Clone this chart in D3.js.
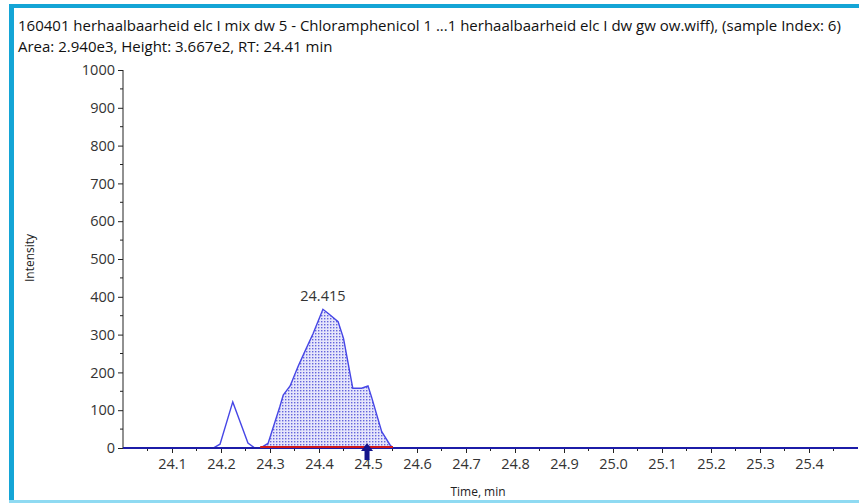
<!DOCTYPE html>
<html>
  <head>
    <title>XIC</title>
    <script src="https://d3js.org/d3.v7.min.js"></script>
    <style>
      body { margin: 0; background: #ffffff; }
      text { font-family: "Open Sans", "Noto Sans", sans-serif; }
    </style>
  </head>
  <body>
    <svg width="859" height="503" id="mainsvg"></svg>
    <script>
        // chart values
        const titleLine1 = '160401 herhaalbaarheid elc I mix dw 5 - Chloramphenicol 1 ...1 herhaalbaarheid elc I dw gw ow.wiff), (sample Index: 6)';
        const titleLine2 = 'Area: 2.940e3, Height: 3.667e2, RT: 24.41 min';
        const times = [24.0, 24.184, 24.198, 24.224, 24.255, 24.269, 24.280, 24.296, 24.320, 24.327, 24.341, 24.357,
                       24.371, 24.388, 24.408, 24.419, 24.439, 24.450, 24.469, 24.487, 24.500, 24.507, 24.528, 24.545, 24.551, 25.5];
        const intensities = [0, 0, 10, 122, 13, 0, 0, 12, 109, 140, 164, 215,
                             255, 303, 367, 356, 334, 290, 158, 158, 164, 136, 43, 8, 0, 0];
        const peakStart = 24.280, peakEnd = 24.551;
        const peakLabel = '24.415';
        const peakLabelTime = 24.408, peakLabelValue = 367;
        const markerTime = 24.498;
        const xTicks = [24.1, 24.2, 24.3, 24.4, 24.5, 24.6, 24.7, 24.8, 24.9, 25.0, 25.1, 25.2, 25.3, 25.4];
        const yTicks = [0, 100, 200, 300, 400, 500, 600, 700, 800, 900, 1000];

        const svg = d3.select('#mainsvg');
        const margin = {top: 70, left: 123, bottom: 448, right: 858};

        // frame
        svg.append('rect').attr('x', 9).attr('y', 4).attr('width', 850).attr('height', 4).attr('fill', '#14a5d6');
        svg.append('rect').attr('x', 9).attr('y', 4).attr('width', 5).attr('height', 499).attr('fill', '#14a5d6');
        svg.append('rect').attr('x', 9).attr('y', 500).attr('width', 850).attr('height', 3).attr('fill', '#8fdaf2');

        svg.append('text').attr('x', 18).attr('y', 31).attr('font-size', 15).attr('fill', '#111')
           .text(titleLine1);
        svg.append('text').attr('x', 18).attr('y', 52).attr('font-size', 15).attr('fill', '#111')
           .text(titleLine2);

        const xScale = d3.scaleLinear().domain([24.0, 25.5]).range([margin.left, margin.right]);
        const yScale = d3.scaleLinear().domain([0, 1000]).range([margin.bottom, margin.top]);

        // dotted fill pattern
        const defs = svg.append('defs');
        const pat = defs.append('pattern').attr('id', 'dots').attr('patternUnits', 'userSpaceOnUse')
            .attr('width', 3).attr('height', 3);
        pat.append('rect').attr('width', 3).attr('height', 3).attr('fill', '#e6e6fb');
        pat.append('rect').attr('width', 1.4).attr('height', 1.4).attr('fill', '#6464dc');

        const data = times.map((t, i) => ({t: t, v: intensities[i]}));
        const peakData = data.filter(d => d.t >= peakStart && d.t <= peakEnd);

        const area = d3.area().x(d => xScale(d.t)).y0(yScale(0)).y1(d => yScale(d.v));
        svg.append('path').datum(peakData).attr('d', area).attr('fill', 'url(#dots)');

        // axes
        const yAxis = d3.axisLeft(yScale).tickValues(yTicks).tickFormat(d3.format('d')).tickSize(5).tickPadding(3);
        const yg = svg.append('g').attr('transform', `translate(${margin.left},0)`).call(yAxis);
        yg.selectAll('.domain').remove();
        yg.selectAll('.tick line').attr('stroke', '#222');
        yg.selectAll('text').attr('font-size', 14.5).attr('fill', '#333');
        svg.append('line').attr('x1', margin.left).attr('x2', margin.left)
           .attr('y1', margin.top).attr('y2', margin.bottom).attr('stroke', '#222');
        // minor y ticks
        svg.append('g').selectAll('line').data(d3.range(50, 1000, 100)).join('line')
           .attr('x1', margin.left - 3).attr('x2', margin.left)
           .attr('y1', d => yScale(d)).attr('y2', d => yScale(d)).attr('stroke', '#222');

        const xAxis = d3.axisBottom(xScale).tickValues(xTicks).tickFormat(d3.format('.1f')).tickSize(5).tickPadding(6);
        const xg = svg.append('g').attr('transform', `translate(0,${margin.bottom})`).call(xAxis);
        xg.selectAll('.domain').remove();
        xg.selectAll('.tick line').attr('stroke', '#222');
        xg.selectAll('text').attr('font-size', 14.5).attr('fill', '#333');
        svg.append('g').selectAll('line').data(d3.range(24.05, 25.5, 0.1)).join('line')
           .attr('x1', d => xScale(d)).attr('x2', d => xScale(d))
           .attr('y1', margin.bottom).attr('y2', margin.bottom + 3).attr('stroke', '#222');

        svg.append('text').attr('x', 478).attr('y', 496).attr('text-anchor', 'middle')
           .attr('font-size', 12).attr('fill', '#222').text('Time, min');
        svg.append('text').attr('transform', `translate(34,258) rotate(-90)`).attr('text-anchor', 'middle')
           .attr('font-size', 12).attr('fill', '#222').text('Intensity');

        // trace
        const line = d3.line().x(d => xScale(d.t)).y(d => yScale(d.v));
        svg.append('path').datum(data).attr('d', line).attr('fill', 'none')
           .attr('stroke', '#4646e6').attr('stroke-width', 1.4);
        svg.append('line').attr('x1', margin.left).attr('x2', margin.right)
           .attr('y1', yScale(0)).attr('y2', yScale(0)).attr('stroke', '#1c1ca8').attr('stroke-width', 2);

        // integration baseline
        svg.append('line').attr('x1', xScale(peakStart)).attr('x2', xScale(peakEnd))
           .attr('y1', yScale(0) - 1).attr('y2', yScale(0) - 1).attr('stroke', '#d01818').attr('stroke-width', 2);

        svg.append('text').attr('x', xScale(peakLabelTime)).attr('y', yScale(peakLabelValue) - 8)
           .attr('text-anchor', 'middle').attr('font-size', 14.5).attr('fill', '#333').text(peakLabel);

        // RT marker arrow
        const ax = xScale(markerTime);
        svg.append('path').attr('d', `M${ax},${margin.bottom - 5} l-6,8 h3.5 v9 h5 v-9 h3.5 z`).attr('fill', '#14148c');
    </script>
  </body>
</html>
